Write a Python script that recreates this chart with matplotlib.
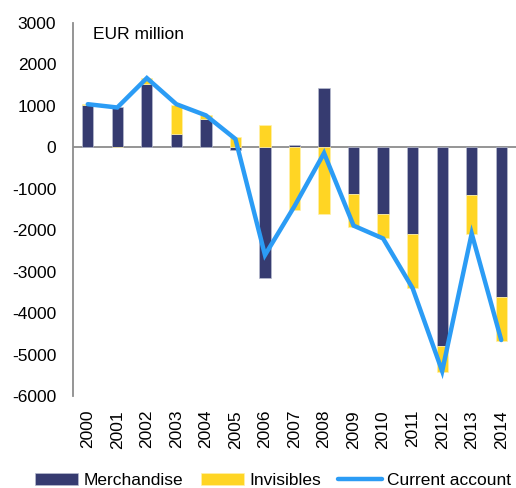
import numpy as np
import matplotlib
matplotlib.use("Agg")
import matplotlib.pyplot as plt

plt.rcParams['font.family'] = ['Liberation Sans', 'DejaVu Sans']
plt.rcParams['font.size'] = 12
plt.rcParams['axes.unicode_minus'] = False

# --- DATA (EUR million) ---
years = ["2000", "2001", "2002", "2003", "2004", "2005", "2006", "2007",
         "2008", "2009", "2010", "2011", "2012", "2013", "2014"]
merchandise = [1030, 960, 1535, 330, 675, -65, -3160, 45,
               1430, -1130, -1615, -2080, -4795, -1140, -3620]
invisibles = [10, 0, 130, 700, 100, 250, 530, -1520,
              -1615, -790, -585, -1325, -620, -940, -1055]
current_account = [1040, 960, 1670, 1040, 770, 200, -2600, -1420,
                   -140, -1890, -2200, -3400, -5400, -2080, -4650]

NAVY = '#363b70'
YELLOW = '#ffd524'
BLUE = '#2b9cf5'

fig = plt.figure(figsize=(5.16, 4.88), dpi=100)
ax = fig.add_axes([0.1415, 0.1885, 0.8585, 0.7645])

x = np.arange(len(years))
m = np.array(merchandise, dtype=float)
v = np.array(invisibles, dtype=float)

# excel-style stacking: positives stack up, negatives stack down separately
m_bottom = np.zeros_like(m)
v_bottom = np.where(np.sign(v) == np.sign(m), m, 0.0)

w = 0.38
b1 = ax.bar(x, m, w, bottom=m_bottom, color=NAVY, edgecolor='#b8bccf', linewidth=0.5,
            label='Merchandise', zorder=2)
b2 = ax.bar(x, v, w, bottom=v_bottom, color=YELLOW, edgecolor='#fff1a8', linewidth=0.5,
            label='Invisibles', zorder=2)
ln, = ax.plot(x, current_account, color=BLUE, lw=3.2, solid_capstyle='round',
              solid_joinstyle='miter', label='Current account', zorder=3)

ax.axhline(0, color='#8c8c8c', lw=1.3, zorder=1)

ax.set_xlim(-0.5, len(years) - 0.5)
ax.set_ylim(-6000, 3000)
ax.set_yticks(np.arange(-6000, 3001, 1000))
ax.set_xticks(x)
ax.set_xticklabels(years, rotation=90)
ax.tick_params(axis='both', length=0, labelsize=12.5)
ax.tick_params(axis='y', pad=12)
ax.tick_params(axis='x', pad=10)

for s in ['top', 'right', 'bottom']:
    ax.spines[s].set_visible(False)
ax.spines['left'].set_color('#8c8c8c')
ax.spines['left'].set_linewidth(1.3)

ax.text(0.045, 0.99, 'EUR million', transform=ax.transAxes, fontsize=12.5,
        va='top', ha='left')

fig.legend([b1, b2, ln], ['Merchandise', 'Invisibles', 'Current account'],
           loc='center', bbox_to_anchor=(0.529, 0.015), ncol=3, frameon=False,
           fontsize=12.5, handlelength=2.5, handleheight=0.7, columnspacing=1.0,
           handletextpad=0.3)

fig.savefig('out.png', dpi=100)
